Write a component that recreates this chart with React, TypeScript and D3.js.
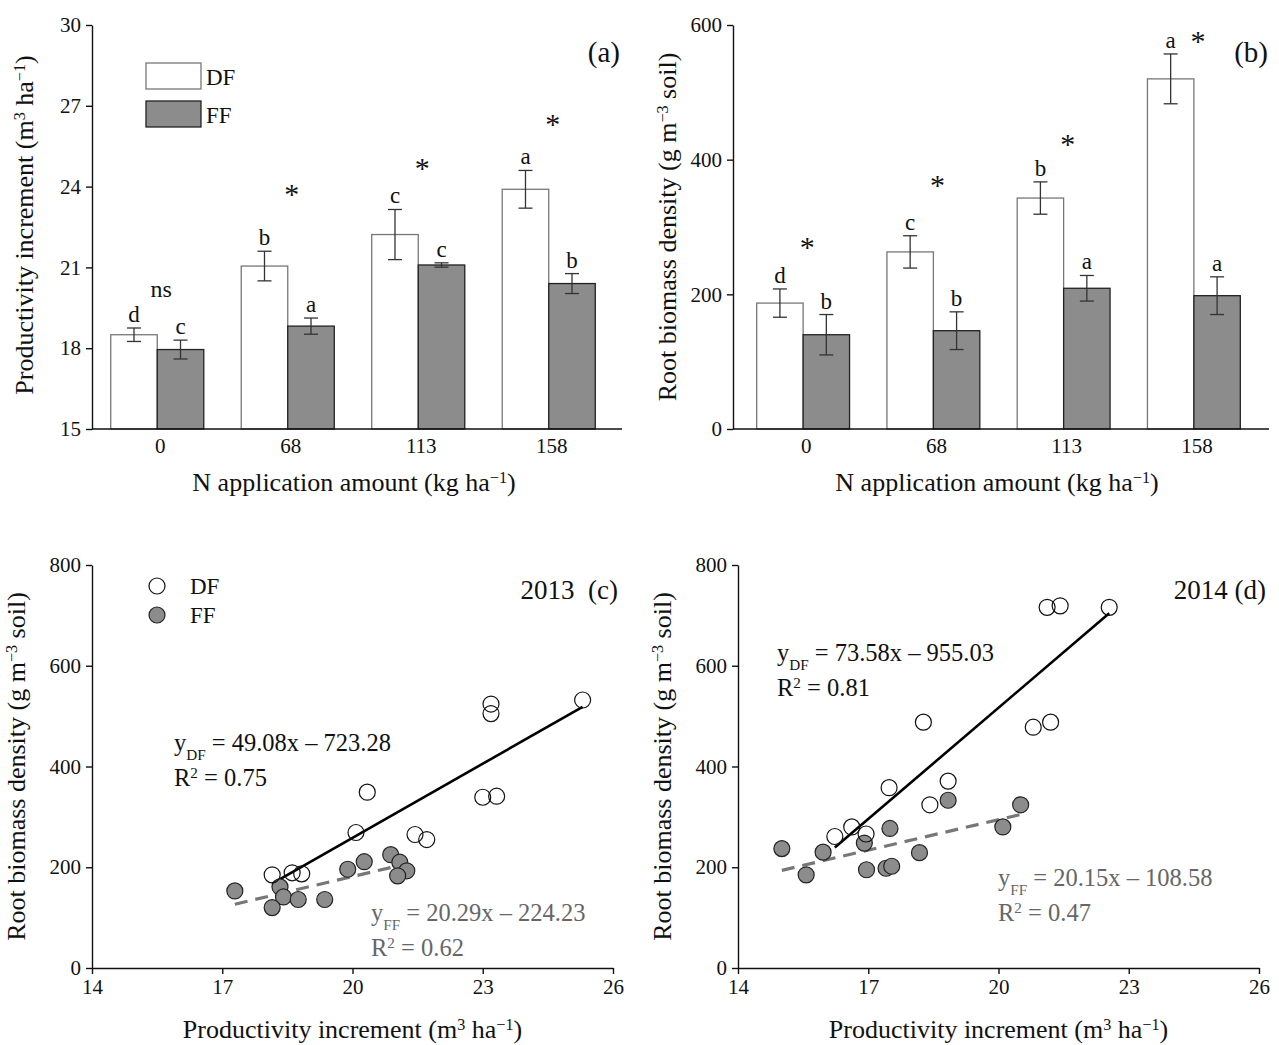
import React, { useEffect, useRef } from 'react';
import * as d3 from 'd3';

// panel (a) / (b): bar data by N level
const nLevels = ['0', '68', '113', '158'];
const prodDF = [18.5, 21.05, 22.22, 23.9];
const prodDFErr = [0.25, 0.55, 0.93, 0.7];
const prodFF = [17.95, 18.82, 21.09, 20.4];
const prodFFErr = [0.35, 0.3, 0.08, 0.37];
const prodLetDF = ['d', 'b', 'c', 'a'];
const prodLetFF = ['c', 'a', 'c', 'b'];
const prodSig = ['ns', '*', '*', '*'];
const prodSigY = [19.9, 23.58, 24.54, 26.18];
const prodTicks = [15, 18, 21, 24, 27, 30];

const rootDF = [187, 263, 343, 520];
const rootDFErr = [21, 24, 24, 37];
const rootFF = [140, 146, 209, 198];
const rootFFErr = [30, 28, 19, 28];
const rootLetDF = ['d', 'c', 'b', 'a'];
const rootLetFF = ['b', 'b', 'a', 'a'];
const rootSig = ['*', '*', '*', '*'];
const rootSigY = [264, 356, 417, 570];
const rootTicks = [0, 200, 400, 600];

// panel (c) 2013 scatter
const dfX13 = [25.3, 23.19, 23.19, 20.34, 23.0, 23.32, 20.08, 21.44, 21.71, 18.15, 18.61, 18.83];
const dfY13 = [532, 524, 505, 349, 339, 341, 269, 265, 255, 185, 189, 187];
const ffX13 = [17.29, 18.33, 18.41, 18.15, 18.75, 19.36, 19.89, 20.27, 20.88, 21.09, 21.25, 21.04];
const ffY13 = [153, 161, 141, 120, 136, 136, 196, 211, 225, 210, 193, 183];
const fitDF13 = [49.08, -723.28, 0.75];
const fitFF13 = [20.29, -224.23, 0.62];

// panel (d) 2014 scatter
const dfX14 = [22.55, 21.12, 21.42, 18.27, 20.8, 21.2, 17.48, 18.84, 18.42, 16.62, 16.23, 16.95];
const dfY14 = [716, 716, 719, 488, 478, 488, 358, 371, 324, 280, 261, 266];
const ffX14 = [15.01, 15.57, 15.96, 16.91, 16.96, 17.41, 17.54, 17.5, 18.18, 18.84, 20.1, 20.51];
const ffY14 = [237, 185, 230, 248, 195, 198, 202, 277, 229, 333, 280, 324];
const fitDF14 = [73.58, -955.03, 0.81];
const fitFF14 = [20.15, -108.58, 0.47];

const scatXTicks = [14, 17, 20, 23, 26];
const scatYTicks = [0, 200, 400, 600, 800];

const FONT = '"Liberation Serif", "Times New Roman", serif';
const GRAY = '#8c8c8c';

// label with superscripts: parts = [[text, 'sup'|'sub'|null], ...]
function richText(sel, parts, size) {
	parts.forEach(([t, mode]) => {
		const ts = sel.append('tspan').text(t);
		if (mode === 'sup') ts.attr('baseline-shift', 'super').attr('font-size', size * 0.62);
		if (mode === 'sub') ts.attr('baseline-shift', 'sub').attr('font-size', size * 0.62);
	});
}

const App = () => {
	const ref = useRef(null);

	useEffect(() => {
		const svg = d3.select(ref.current);
		svg.selectAll('*').remove();
		svg.style('font-family', FONT);

		const yAxis = (g, y, ticks, left) => {
			const a = g.append('g')
				.attr('transform', `translate(${left},0)`)
				.call(d3.axisLeft(y).tickValues(ticks).tickSize(6).tickPadding(5).tickSizeOuter(0));
			a.selectAll('text').attr('font-size', 21).attr('font-family', FONT).attr('fill', '#111');
			a.selectAll('line,path').attr('stroke', '#111').attr('stroke-width', 1.4);
		};

		const yTitle = (g, cx, cy, parts) => {
			const t = g.append('text')
				.attr('transform', `translate(${cx},${cy}) rotate(-90)`)
				.attr('text-anchor', 'middle')
				.attr('font-size', 26)
				.attr('fill', '#111');
			richText(t, parts, 26);
		};
		const xTitle = (g, cx, cy, parts) => {
			const t = g.append('text')
				.attr('x', cx).attr('y', cy)
				.attr('text-anchor', 'middle')
				.attr('font-size', 26)
				.attr('fill', '#111');
			richText(t, parts, 26);
		};

		const barPanel = (cfg) => {
			const g = svg.append('g');
			const { left, right, top, bottom, bandRange, domain, ticks, df, dfErr, ff, ffErr, letDF, letFF, sig, sigY } = cfg;
			const y = d3.scaleLinear().domain(domain).range([bottom, top]);
			const x = d3.scaleBand().domain(nLevels).range(bandRange).paddingInner(0.287).paddingOuter(0.1435);
			const sub = d3.scaleBand().domain(['DF', 'FF']).range([0, x.bandwidth()]);

			const rows = nLevels.map((n, i) => [
				{ n, k: 'DF', v: df[i], e: dfErr[i], l: letDF[i] },
				{ n, k: 'FF', v: ff[i], e: ffErr[i], l: letFF[i] },
			]).flat();

			g.selectAll('rect.bar').data(rows).join('rect')
				.attr('x', d => x(d.n) + sub(d.k))
				.attr('y', d => y(d.v))
				.attr('width', sub.bandwidth())
				.attr('height', d => bottom - y(d.v))
				.attr('fill', d => d.k === 'DF' ? '#fff' : GRAY)
				.attr('stroke', d => d.k === 'DF' ? '#777' : '#222')
				.attr('stroke-width', 1.3);

			const cx = d => x(d.n) + sub(d.k) + sub.bandwidth() / 2;
			const eb = g.selectAll('g.eb').data(rows).join('g').attr('stroke', '#333').attr('stroke-width', 1.3);
			eb.append('line').attr('x1', cx).attr('x2', cx).attr('y1', d => y(d.v + d.e)).attr('y2', d => y(d.v - d.e));
			eb.append('line').attr('x1', d => cx(d) - 7).attr('x2', d => cx(d) + 7).attr('y1', d => y(d.v + d.e)).attr('y2', d => y(d.v + d.e));
			eb.append('line').attr('x1', d => cx(d) - 7).attr('x2', d => cx(d) + 7).attr('y1', d => y(d.v - d.e)).attr('y2', d => y(d.v - d.e));

			g.selectAll('text.let').data(rows).join('text')
				.attr('x', cx)
				.attr('y', d => y(d.v + d.e) - 6)
				.attr('text-anchor', 'middle')
				.attr('font-size', 23)
				.attr('fill', '#111')
				.text(d => d.l);

			g.selectAll('text.sig').data(nLevels).join('text')
				.attr('x', d => x(d) + x.bandwidth() / 2 + 4)
				.attr('y', (d, i) => y(sigY[i]))
				.attr('dy', (d, i) => sig[i] === '*' ? 6 : 0)
				.attr('text-anchor', 'middle')
				.attr('font-size', (d, i) => sig[i] === '*' ? 30 : 24)
				.attr('fill', '#111')
				.text((d, i) => sig[i]);

			// axes
			yAxis(g, y, ticks, left);
			g.append('line').attr('x1', left).attr('x2', right).attr('y1', bottom).attr('y2', bottom)
				.attr('stroke', '#111').attr('stroke-width', 1.4);
			g.selectAll('text.xt').data(nLevels).join('text')
				.attr('x', d => x(d) + x.bandwidth() / 2 + 3)
				.attr('y', bottom + 24)
				.attr('text-anchor', 'middle')
				.attr('font-size', 21)
				.attr('fill', '#111')
				.text(d => d);

			g.append('text').attr('x', cfg.tagX).attr('y', cfg.tagY).attr('text-anchor', 'end')
				.attr('font-size', 29).attr('fill', '#111').text(cfg.tag);
			return g;
		};

		// (a)
		const ga = barPanel({
			left: 92, right: 622, top: 25, bottom: 429, bandRange: [92, 614], domain: [15, 30], ticks: prodTicks,
			df: prodDF, dfErr: prodDFErr, ff: prodFF, ffErr: prodFFErr, letDF: prodLetDF, letFF: prodLetFF,
			sig: prodSig, sigY: prodSigY, tag: '(a)', tagX: 620, tagY: 62,
		});
		yTitle(ga, 33, 225, [['Productivity increment (m', null], ['3', 'sup'], [' ha', null], ['\u22121', 'sup'], [')', null]]);
		xTitle(ga, 354, 491, [['N application amount (kg ha', null], ['\u22121', 'sup'], [')', null]]);
		// legend (a)
		[['DF', '#fff', '#777', 63], ['FF', GRAY, '#222', 101]].forEach(([k, f, s, ty]) => {
			ga.append('rect').attr('x', 146).attr('y', ty).attr('width', 55).attr('height', 26)
				.attr('fill', f).attr('stroke', s).attr('stroke-width', 1.3);
			ga.append('text').attr('x', 206).attr('y', ty + 22).attr('font-size', 23).attr('fill', '#111').text(k);
		});

		// (b)
		const gb = barPanel({
			left: 733, right: 1269, top: 25, bottom: 429, bandRange: [738, 1259], domain: [0, 600], ticks: rootTicks,
			df: rootDF, dfErr: rootDFErr, ff: rootFF, ffErr: rootFFErr, letDF: rootLetDF, letFF: rootLetFF,
			sig: rootSig, sigY: rootSigY, tag: '(b)', tagX: 1268, tagY: 62,
		});
		yTitle(gb, 676, 227, [['Root biomass density (g m', null], ['\u22123', 'sup'], [' soil)', null]]);
		xTitle(gb, 997, 491, [['N application amount (kg ha', null], ['\u22121', 'sup'], [')', null]]);

		const scatPanel = (cfg) => {
			const g = svg.append('g');
			const { left, right, top, bottom } = cfg;
			const x = d3.scaleLinear().domain([14, 26]).range([left, right]);
			const y = d3.scaleLinear().domain([0, 800]).range([bottom, top]);

			yAxis(g, y, scatYTicks, left);
			const xa = g.append('g').attr('transform', `translate(0,${bottom})`)
				.call(d3.axisBottom(x).tickValues(scatXTicks).tickSize(6).tickPadding(5).tickSizeOuter(0));
			xa.selectAll('text').attr('font-size', 21).attr('font-family', FONT).attr('fill', '#111');
			xa.selectAll('line,path').attr('stroke', '#111').attr('stroke-width', 1.4);

			// regression lines over each series' x range
			const fitLine = (xs, fit, stroke, dash, w) => {
				const [x0, x1] = d3.extent(xs);
				const line = d3.line().x(d => x(d)).y(d => y(fit[0] * d + fit[1]));
				g.append('path').datum([x0, x1]).attr('d', line)
					.attr('fill', 'none').attr('stroke', stroke).attr('stroke-width', w)
					.attr('stroke-dasharray', dash);
			};
			fitLine(cfg.dfX, cfg.fitDF, '#000', null, 2.6);
			fitLine(cfg.ffX, cfg.fitFF, '#777', '13,8', 3.2);

			g.selectAll('circle.ff').data(cfg.ffX).join('circle')
				.attr('cx', d => x(d)).attr('cy', (d, i) => y(cfg.ffY[i])).attr('r', 8)
				.attr('fill', GRAY).attr('stroke', '#222').attr('stroke-width', 1.2);
			g.selectAll('circle.df').data(cfg.dfX).join('circle')
				.attr('cx', d => x(d)).attr('cy', (d, i) => y(cfg.dfY[i])).attr('r', 8)
				.attr('fill', 'none').attr('stroke', '#111').attr('stroke-width', 1.2);

			const eq = (tx, ty, key, fit, color) => {
				const t = g.append('text').attr('x', tx).attr('y', ty).attr('font-size', 24.5).attr('fill', color);
				const sign = fit[1] < 0 ? '\u2013' : '+';
				richText(t, [['y', null], [key, 'sub'], [` = ${fit[0].toFixed(2)}x ${sign} ${Math.abs(fit[1]).toFixed(2)}`, null]], 24.5);
				const r = g.append('text').attr('x', tx).attr('y', ty + 35).attr('font-size', 24.5).attr('fill', color);
				richText(r, [['R', null], ['2', 'sup'], [` = ${fit[2].toFixed(2)}`, null]], 24.5);
			};
			eq(cfg.eqDF[0], cfg.eqDF[1], 'DF', cfg.fitDF, '#111');
			eq(cfg.eqFF[0], cfg.eqFF[1], 'FF', cfg.fitFF, '#666');

			g.append('text').attr('x', cfg.tagX).attr('y', top + 34).attr('text-anchor', 'end')
				.attr('font-size', 27).attr('fill', '#111').attr('xml:space', 'preserve').text(cfg.tag);

			yTitle(g, left - 67, (top + bottom) / 2, [['Root biomass density (g m', null], ['\u22123', 'sup'], [' soil)', null]]);
			xTitle(g, (left + right) / 2, bottom + 70, [['Productivity increment (m', null], ['3', 'sup'], [' ha', null], ['\u22121', 'sup'], [')', null]]);
			return g;
		};

		const gc = scatPanel({
			left: 92, right: 613, top: 565, bottom: 968,
			dfX: dfX13, dfY: dfY13, ffX: ffX13, ffY: ffY13, fitDF: fitDF13, fitFF: fitFF13,
			eqDF: [174, 751], eqFF: [371, 921], tag: '2013  (c)', tagX: 618,
		});
		[['DF', 'none', 586], ['FF', GRAY, 615]].forEach(([k, f, cy]) => {
			gc.append('circle').attr('cx', 157).attr('cy', cy).attr('r', 8)
				.attr('fill', f).attr('stroke', k === 'DF' ? '#111' : '#222').attr('stroke-width', 1.2);
			gc.append('text').attr('x', 190).attr('y', cy + 8).attr('font-size', 23).attr('fill', '#111').text(k);
		});

		scatPanel({
			left: 738, right: 1259, top: 565, bottom: 968,
			dfX: dfX14, dfY: dfY14, ffX: ffX14, ffY: ffY14, fitDF: fitDF14, fitFF: fitFF14,
			eqDF: [777, 661], eqFF: [998, 886], tag: '2014 (d)', tagX: 1266,
		});
	}, []);

	return (
		<div style={{ position: 'absolute', left: 0, top: 0 }}>
			<svg ref={ref} width={1279} height={1045} style={{ display: 'block', background: '#fff' }} />
		</div>
	);
};

export default App;
